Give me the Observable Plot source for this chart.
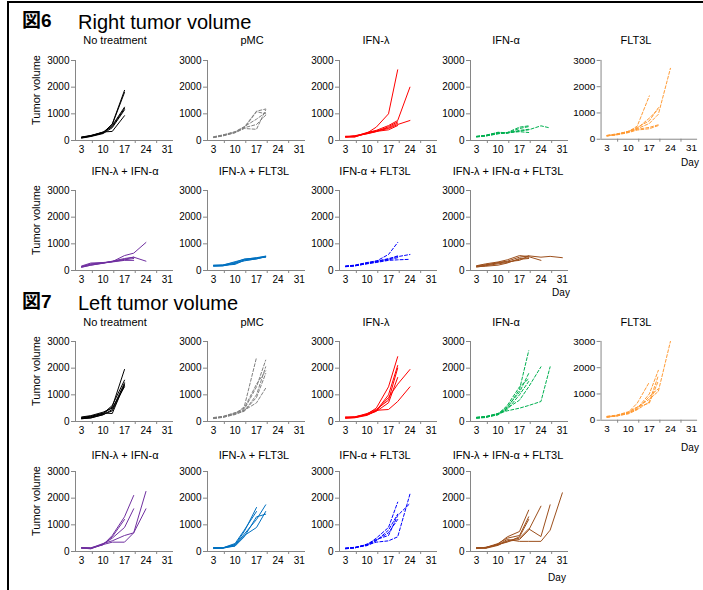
<!DOCTYPE html>
<html><head><meta charset="utf-8">
<script src="https://cdn.jsdelivr.net/npm/d3@7"></script>
<script src="https://cdn.jsdelivr.net/npm/@observablehq/plot@0.6"></script>
<style>
body{margin:0;background:#fff;}
#root{position:relative;width:703px;height:590px;overflow:hidden;font-family:"Liberation Sans",Arial,sans-serif;color:#000;background:#fff;}
.t{position:absolute;white-space:nowrap;line-height:1;}
.c{transform:translate(-50%,-50%);}
.panel{position:absolute;}
</style></head><body><div id="root"></div>
<script>
// ---------- data ----------
const days = [3, 6, 10, 13, 17, 20, 24, 27, 31];
const xTickLabels = [3, 10, 17, 24, 31];
const yTickLabels = [0, 1000, 2000, 3000];
const groups = ["No treatment", "pMC", "IFN-λ", "IFN-α", "FLT3L",
  "IFN-λ + IFN-α", "IFN-λ + FLT3L", "IFN-α + FLT3L", "IFN-λ + IFN-α + FLT3L"];
const figTitles = ["Right tumor volume", "Left tumor volume"];
const figNumbers = ["図6", "図7"];

// Fig 6: right tumor volume (each inner array = one mouse, values at days[0..])
const r_none = [[110,170,290,620,1880],[120,180,300,600,1800],[100,160,280,560,1250],[130,190,310,520,1200],[90,150,260,480,1150],[120,170,320,340,930]];
const r_pmc = [[120,180,300,470,1080,1000],[130,190,320,500,1100,1180],[110,170,290,450,420,1150],[120,200,310,480,600,950],[140,210,330,520,800,1050]];
const r_lam = [[150,140,280,500,1000,2650],[140,160,300,380,560,750,2000],[130,180,270,350,450,600,750],[150,170,250,330,520,700],[120,130,290,360,480,650],[160,150,260,340,400,560]];
const r_alf = [[150,180,280,300,350,400,550,470],[140,200,300,280,450,520],[130,170,250,300,500,550],[160,190,310,290,330,300],[150,170,260,270,380,420]];
const r_flt = [[130,180,260,400,600,950,2700],[140,170,280,500,1650],[120,190,300,450,700,1200],[150,200,280,380,450,550],[130,160,250,350,400,520],[140,180,300,420,800,1150]];
const r_lamAlf = [[130,200,270,330,560,650,1050],[150,230,280,350,450,500,350],[170,280,300,330,400,450],[140,250,290,320,380,380],[120,200,280,340,420,500]];
const r_lamFlt = [[180,190,230,380,430,530],[170,180,260,400,460,500],[190,200,330,420,480,540],[160,170,280,360,440,510],[200,210,300,430,470,520]];
const r_alfFlt = [[150,170,260,350,600,1050],[160,190,280,330,450,520,600],[140,180,250,300,380,400,420],[170,200,300,360,420,550],[150,180,270,320,400,480]];
const r_all = [[150,200,300,350,500,550,500,530,480],[180,250,320,400,560,520,380],[130,180,250,300,420,450],[170,220,280,330,380,550],[140,160,200,280,450,480]];

// Fig 7: left tumor volume
const l_none = [[120,160,280,550,1950],[150,200,300,600,1550],[100,140,250,450,1450],[130,180,320,300,1400],[170,220,350,500,1300],[110,130,260,400,1350]];
const l_pmc = [[130,150,280,550,2400],[120,170,300,450,1300,2300],[140,180,320,500,1400,1900],[110,160,260,400,900,1800],[150,190,330,420,700,1250],[130,170,290,380,1000,2050]];
const l_lam = [[150,160,280,500,1300,2430],[130,150,250,400,1000,2100],[160,170,300,450,800,2000],[140,180,260,380,700,1650],[120,140,230,400,900,1400,1950],[170,150,270,420,450,750,1300]];
const l_alf = [[130,170,260,500,1200,2650],[150,180,300,550,1100,1800],[140,160,250,450,1000,1500],[120,150,280,500,800,1300,2050],[160,190,300,400,500,600,750,2050],[150,170,270,600,1300,1600]];
const l_flt = [[120,160,280,500,800,1100,3000],[140,180,300,650,1450],[130,150,260,450,1000,1900],[110,170,240,400,700,1700],[150,190,320,500,650,1500],[130,160,280,420,900,1200]];
const l_lamAlf = [[130,120,250,600,1300,2100],[140,110,280,500,900,1600],[120,130,300,400,600,700,2250],[150,140,260,350,350,700,1600],[130,100,270,550,1200]];
const l_lamFlt = [[120,130,250,750,1650],[130,140,300,800,1500],[140,120,220,650,1200,1750],[110,130,270,600,900,1500],[150,140,200,550,1300,1400]];
const l_alfFlt = [[120,140,250,500,900,1850],[110,150,220,400,800,1400],[130,130,280,450,600,1350,1800],[120,160,240,350,400,550,2150],[100,140,260,420,700,1200]];
const l_all = [[130,140,250,450,380,380,380,800,2200],[150,130,280,550,750,1550],[120,150,300,500,600,1300],[140,120,230,400,500,850,560,1750],[110,160,260,380,450,800,1700],[130,140,270,350,550,1200]];

const figData = [
  [r_none, r_pmc, r_lam, r_alf, r_flt, r_lamAlf, r_lamFlt, r_alfFlt, r_all],
  [l_none, l_pmc, l_lam, l_alf, l_flt, l_lamAlf, l_lamFlt, l_alfFlt, l_all]
];

// ---------- styles / layout ----------
const groupStyles = [
  {stroke: "#000000", dash: null},
  {stroke: "#808080", dash: "3,2"},
  {stroke: "#ff0000", dash: null},
  {stroke: "#00b050", dash: "3,2"},
  {stroke: "#ff9933", dash: "3,2"},
  {stroke: "#7030a0", dash: null},
  {stroke: "#0070c0", dash: null},
  {stroke: "#0000ff", dash: "3,2"},
  {stroke: "#9c4f1c", dash: null}
];
const colAxisX = [75, 207, 339, 470, 601];
const rowTops = [[60, 190], [341, 471]];
const titleCY = [[40, 171], [322, 455]];
const titleCX = [[115, 252, 376, 506, 636], [125, 254, 375, 508]];
const figTitleTop = [12, 293];
const dayPos = [[[690, 163], [561, 293]], [[690, 448], [557, 578]]];
const ML = 30, MR = 6, MT = 4, MB = 20, PW = 98, PH = 80;
const axisGray = "#868686";

const rootEl = document.getElementById("root");
function addText(txt, x, y, css, cls) {
  const d = document.createElement("div");
  d.className = "t " + (cls || "");
  d.textContent = txt;
  d.style.left = x + "px"; d.style.top = y + "px";
  Object.assign(d.style, css || {});
  rootEl.appendChild(d);
  return d;
}

// frame
const frameTop = document.createElement("div");
Object.assign(frameTop.style, {position:"absolute", left:"8px", top:"1px", width:"700px", height:"2px", background:"#000"});
rootEl.appendChild(frameTop);
const frameLeft = document.createElement("div");
Object.assign(frameLeft.style, {position:"absolute", left:"7px", top:"1px", width:"2px", height:"600px", background:"#000"});
rootEl.appendChild(frameLeft);

for (let f = 0; f < 2; f++) {
  addText(figNumbers[f], 22, figTitleTop[f] - 1, {fontSize: "19px", fontWeight: "bold", lineHeight: "20px", fontFamily: "'Liberation Sans','Noto Sans CJK JP',sans-serif"});
  addText(figTitles[f], 78, figTitleTop[f], {fontSize: "20px", lineHeight: "20px"});
  for (let r = 0; r < 2; r++) {
    const nCols = r === 0 ? 5 : 4;
    for (let c = 0; c < nCols; c++) {
      const g = r * 5 + c;
      const series = figData[f][g];
      const rows = [];
      series.forEach((vals, m) => vals.forEach((v, k) => rows.push({mouse: m, day: days[k], v})));
      const st = groupStyles[g];
      const plot = Plot.plot({
        width: ML + PW + MR, height: MT + PH + MB,
        marginLeft: ML, marginRight: MR, marginTop: MT, marginBottom: MB,
        x: {domain: [1, 33]},
        y: {domain: [0, 3000]},
        style: {background: "transparent", overflow: "visible", fontFamily: "'Liberation Sans',Arial,sans-serif", fontSize: "10px", color: "#000"},
        marks: [
          Plot.axisY(yTickLabels, {tickSize: 4, tickPadding: 2, stroke: axisGray, label: null, fontSize: 10, tickFormat: d => String(d)}),
          Plot.axisX(xTickLabels, {tickSize: 0, tickPadding: 5, label: null, fontSize: 10, tickFormat: d => String(d)}),
          Plot.axisX([6.5, 13.5, 20.5, 27.5], {tickSize: 3, tickFormat: () => "", stroke: axisGray, label: null}),
          Plot.ruleX([1], {y1: 0, y2: 3000, stroke: axisGray}),
          Plot.ruleY([0], {stroke: axisGray}),
          Plot.line(rows, {x: "day", y: "v", z: "mouse", stroke: st.stroke, strokeWidth: 1, strokeDasharray: st.dash || undefined})
        ]
      });
      const wrap = document.createElement("div");
      wrap.className = "panel";
      wrap.style.left = (colAxisX[c] - ML) + "px";
      wrap.style.top = (rowTops[f][r] - MT) + "px";
      wrap.appendChild(plot);
      rootEl.appendChild(wrap);
      addText(groups[g], titleCX[r][c], titleCY[f][r], {fontSize: "11px"}, "c");
      if (c === 0) {
        addText("Tumor volume", 36, rowTops[f][r] + 30, {fontSize: "11px", transform: "translate(-50%,-50%) rotate(-90deg)"});
      }
    }
    addText("Day", dayPos[f][r][0], dayPos[f][r][1], {fontSize: "10px"}, "c");
  }
}
</script></body></html>
